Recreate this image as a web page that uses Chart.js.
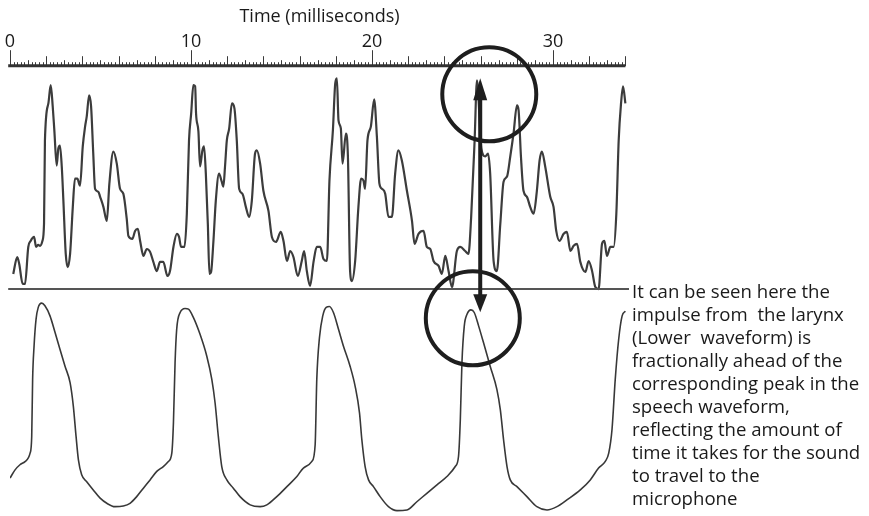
<!DOCTYPE html>
<html lang="en">
<head>
<meta charset="UTF-8">
<title>Speech and larynx waveforms</title>
<script src="https://cdn.jsdelivr.net/npm/chart.js"></script>
<style>
  html, body { margin: 0; padding: 0; background: #fff; }
  #wrap { position: relative; width: 869px; height: 516px; }
  #note {
    position: absolute; left: 632px; top: 279px;
    font: 18.6px "Open Sans", sans-serif; line-height: 23px;
    color: #1a1a1a; white-space: nowrap;
  }
</style>
</head>
<body>
<div id="wrap">
  <canvas id="chart" width="869" height="516"></canvas>
  <div id="note">It can be seen here the<br>impulse from&nbsp; the larynx<br>(Lower&nbsp; waveform) is<br>fractionally ahead of the<br>corresponding peak in the<br>speech waveform,<br>reflecting the amount of<br>time it takes for the sound<br>to travel to the<br>microphone</div>
</div>
<script>
// time axis (ms)
const timeTicks = [0, 10, 20, 30];

// speech waveform (upper trace), relative level 0..100
const speechTime = [0.18,0.40,0.51,0.70,0.83,1.01,1.14,1.33,1.44,1.56,
  1.66,1.79,1.88,1.93,2.12,2.25,2.36,2.45,2.58,2.67,
  2.76,2.86,2.95,3.08,3.19,3.32,3.47,3.59,3.72,3.87,
  4.02,4.15,4.24,4.37,4.48,4.60,4.70,4.88,4.98,5.16,
  5.35,5.49,5.71,5.90,6.08,6.26,6.45,6.54,6.76,6.91,
  7.06,7.19,7.37,7.56,7.74,7.92,8.11,8.29,8.47,8.70,
  8.84,9.03,9.22,9.34,9.45,9.64,9.77,9.89,10.01,10.13,
  10.23,10.28,10.41,10.50,10.63,10.72,10.82,10.93,11.02,11.11,
  11.24,11.37,11.55,11.70,11.79,11.88,11.98,12.11,12.26,12.40,
  12.53,12.66,12.84,13.03,13.21,13.36,13.54,13.64,13.82,14.00,
  14.28,14.47,14.70,14.96,15.11,15.30,15.48,15.66,15.90,16.12,
  16.25,16.40,16.58,16.77,16.95,17.14,17.32,17.51,17.65,17.84,
  17.97,18.06,18.15,18.28,18.37,18.56,18.67,18.79,18.89,19.07,
  19.25,19.40,19.53,19.62,19.75,19.94,20.12,20.27,20.41,20.55,
  20.73,20.91,21.10,21.28,21.46,21.65,21.93,22.21,22.35,22.57,
  22.85,23.03,23.22,23.40,23.68,23.86,24.05,24.23,24.42,24.69,
  24.88,25.15,25.33,25.48,25.67,25.80,26.04,26.26,26.41,26.53,
  26.72,26.90,27.09,27.27,27.46,27.64,27.82,28.01,28.10,28.23,
  28.37,28.56,28.74,28.93,29.11,29.26,29.39,29.57,29.85,30.03,
  30.18,30.36,30.59,30.77,30.96,31.14,31.33,31.51,31.79,31.97,
  32.16,32.34,32.52,32.71,32.84,32.98,33.17,33.35,33.50,33.63,
  33.76,33.87,34.00];
const speechLevel = [6.8,14.4,11.3,2.3,2.3,18.9,21.6,23.4,18.9,19.8,
  19.4,21.6,29.3,66.7,83.3,91.5,82.0,71.2,55.4,63.1,
  64.4,55.0,39.6,15.8,9.9,15.8,36.9,49.6,49.6,46.4,
  64.0,73.0,77.5,86.9,82.0,60.8,45.0,43.7,41.4,36.9,
  30.6,47.3,61.7,56.3,45.0,42.8,31.5,23.9,22.5,26.1,
  27.0,21.6,14.9,18.0,16.7,12.2,8.1,12.2,12.2,5.9,
  8.1,18.9,24.8,23.4,18.9,18.9,33.8,66.7,78.8,91.5,
  91.0,78.8,70.7,55.0,62.2,64.0,51.8,29.3,6.8,7.7,
  21.6,39.6,51.8,48.2,46.0,55.0,66.7,72.1,83.3,81.1,
  66.7,45.0,42.8,36.9,32.4,39.6,60.8,62.2,56.3,44.1,
  35.1,23.4,21.2,25.7,21.6,12.6,17.1,14.4,5.9,12.6,
  17.1,8.1,1.4,12.2,18.9,18.9,13.5,12.6,48.7,71.2,
  92.3,94.6,75.7,72.1,56.3,69.8,59.5,8.1,3.6,12.6,
  36.9,49.6,48.7,45.0,66.7,73.0,85.1,68.5,47.3,45.0,
  42.8,32.4,32.4,51.8,62.2,57.7,44.1,30.6,20.3,24.8,
  26.1,18.9,18.0,12.6,10.4,6.8,14.9,8.1,0.9,17.1,
  18.9,17.1,15.8,32.4,66.7,93.7,63.1,59.5,60.8,51.8,
  12.6,8.1,29.3,48.2,50.5,59.5,69.8,82.4,80.2,59.5,
  44.1,41.4,36.9,33.8,44.1,57.7,61.7,55.0,41.4,36.9,
  26.1,21.6,24.8,25.7,17.1,19.4,20.3,12.2,7.7,12.6,
  8.1,0.9,0,20.3,21.6,14.9,18.9,18.9,33.8,66.7,
  83.3,91.0,83.3];

// larynx waveform (lower trace), relative level 0..-100
const larynxTime = [0.00,0.28,0.55,0.83,1.11,1.20,1.25,1.33,1.44,1.56,
  1.75,1.93,2.21,2.49,2.76,3.04,3.32,3.50,3.65,3.78,
  3.96,4.24,4.60,4.98,5.35,5.80,6.26,6.63,7.00,7.37,
  7.74,8.11,8.47,8.75,8.94,9.03,9.12,9.21,9.40,9.67,
  9.86,10.13,10.50,10.87,11.15,11.33,11.51,11.70,11.98,12.34,
  12.71,13.27,13.82,14.19,14.74,15.30,15.85,16.21,16.68,16.86,
  16.95,17.10,17.28,17.47,17.65,17.87,18.15,18.42,18.79,19.07,
  19.31,19.44,19.62,19.81,20.08,20.45,20.91,21.38,21.93,22.48,
  23.03,23.59,24.14,24.60,24.78,24.88,24.97,25.10,25.25,25.47,
  25.65,25.89,26.16,26.53,26.90,27.09,27.27,27.46,27.64,28.01,
  28.56,29.11,29.67,30.22,30.77,31.51,32.06,32.52,32.89,33.08,
  33.26,33.44,33.63,33.82,34.00];
const larynxLevel = [-84.8,-81.1,-78.8,-77.4,-73.6,-66.1,-40.5,-25.5,-13.5,-8.2,
  -6.3,-7.5,-12.0,-19.5,-27.0,-34.6,-42.0,-52.6,-66.1,-76.6,
  -83.3,-86.4,-90.1,-93.8,-96.1,-97.6,-97.3,-96.1,-93.1,-89.3,
  -85.6,-81.8,-79.6,-77.3,-73.6,-60.0,-33.0,-18.0,-10.5,-8.7,
  -9.0,-12.7,-20.3,-30.0,-40.5,-51.0,-66.1,-79.6,-85.6,-89.3,
  -93.1,-96.8,-97.6,-96.8,-93.1,-88.6,-84.1,-80.3,-77.3,-69.8,
  -40.5,-21.6,-12.0,-8.2,-7.8,-10.5,-18.0,-25.5,-34.6,-43.6,
  -55.5,-67.6,-79.6,-85.6,-88.6,-93.1,-97.6,-99.4,-99.1,-95.4,
  -91.6,-87.8,-84.1,-79.6,-75.1,-58.6,-33.0,-16.5,-11.3,-9.3,
  -10.5,-16.5,-24.0,-34.6,-45.0,-54.1,-67.6,-79.6,-85.6,-88.6,
  -93.1,-97.6,-99.1,-97.6,-94.6,-90.1,-85.6,-80.3,-77.3,-73.6,
  -63.1,-40.5,-22.5,-12.0,-9.9];

// marked pulse pair: speech peak vs larynx peak
const arrowAt = 25.98, arrowTop = 94.6, arrowBottom = -10.4;
const rings = [{ t: 26.48, v: 87.4 }, { t: 25.57, v: -13.1 }];

const ink = '#1e1e1e';

// ruler along the top, divider between traces, rings and arrow
const overlay = {
  id: 'overlay',
  afterDatasetsDraw(chart) {
    const { ctx, chartArea, scales: { x, y } } = chart;
    const top = chartArea.top;
    ctx.save();

    // ruler ticks every 0.2 ms
    ctx.strokeStyle = '#3a3a3a';
    ctx.lineWidth = 1;
    for (let i = 0; i <= 170; i++) {
      const t = i / 5;
      let len = 4;
      if (i % 50 === 0) len = 16;
      else if (i % 10 === 0) len = 10;
      else if (i % 5 === 0) len = 6;
      const px = Math.round(x.getPixelForValue(t)) + 0.5;
      ctx.beginPath();
      ctx.moveTo(px, top);
      ctx.lineTo(px, top - len);
      ctx.stroke();
    }
    ctx.lineWidth = 3;
    ctx.strokeStyle = '#333';
    ctx.beginPath();
    ctx.moveTo(x.getPixelForValue(-0.1), top - 0.5);
    ctx.lineTo(x.getPixelForValue(34), top - 0.5);
    ctx.stroke();

    // divider line
    const y0 = y.getPixelForValue(0);
    ctx.lineWidth = 2;
    ctx.strokeStyle = '#555';
    ctx.beginPath();
    ctx.moveTo(x.getPixelForValue(-0.1), y0);
    ctx.lineTo(x.getPixelForValue(34.2), y0);
    ctx.stroke();

    // rings
    ctx.strokeStyle = ink;
    ctx.lineWidth = 4;
    rings.forEach(r => {
      ctx.beginPath();
      ctx.arc(x.getPixelForValue(r.t), y.getPixelForValue(r.v), 47, 0, Math.PI * 2);
      ctx.stroke();
    });

    // double-headed arrow
    const ax = x.getPixelForValue(arrowAt);
    const ay1 = y.getPixelForValue(arrowTop);
    const ay2 = y.getPixelForValue(arrowBottom);
    ctx.lineWidth = 4;
    ctx.beginPath();
    ctx.moveTo(ax, ay1 + 15);
    ctx.lineTo(ax, ay2 - 15);
    ctx.stroke();
    ctx.fillStyle = ink;
    ctx.beginPath();
    ctx.moveTo(ax, ay1);
    ctx.lineTo(ax - 7, ay1 + 22);
    ctx.lineTo(ax + 7, ay1 + 22);
    ctx.closePath();
    ctx.fill();
    ctx.beginPath();
    ctx.moveTo(ax, ay2);
    ctx.lineTo(ax - 7, ay2 - 18);
    ctx.lineTo(ax + 7, ay2 - 18);
    ctx.closePath();
    ctx.fill();

    ctx.restore();
  }
};

new Chart(document.getElementById('chart'), {
  type: 'line',
  data: {
    datasets: [
      {
        data: speechTime.map((t, i) => ({ x: t, y: speechLevel[i] })),
        borderColor: '#3c3c3c',
        borderWidth: 2.2,
        pointRadius: 0,
        cubicInterpolationMode: 'monotone'
      },
      {
        data: larynxTime.map((t, i) => ({ x: t, y: larynxLevel[i] })),
        borderColor: '#383838',
        borderWidth: 1.6,
        pointRadius: 0,
        cubicInterpolationMode: 'monotone'
      }
    ]
  },
  options: {
    responsive: false,
    animation: false,
    layout: { padding: { left: 10, right: 240, top: 6, bottom: 4 } },
    plugins: { legend: { display: false }, tooltip: { enabled: false } },
    scales: {
      x: {
        type: 'linear',
        position: 'top',
        min: 0,
        max: 34.2,
        afterBuildTicks: scale => { scale.ticks = timeTicks.map(v => ({ value: v })); },
        ticks: {
          padding: 0,
          maxRotation: 0,
          color: '#1a1a1a',
          font: { family: 'Open Sans', size: 18 }
        },
        grid: { display: false, drawTicks: true, tickLength: 14 },
        border: { display: false },
        title: {
          display: true,
          text: 'Time (milliseconds)',
          color: '#1a1a1a',
          font: { family: 'Open Sans', size: 18 },
          padding: { top: 0, bottom: 3 }
        }
      },
      y: { display: false, min: -100, max: 100 }
    }
  },
  plugins: [overlay]
});
</script>
</body>
</html>
